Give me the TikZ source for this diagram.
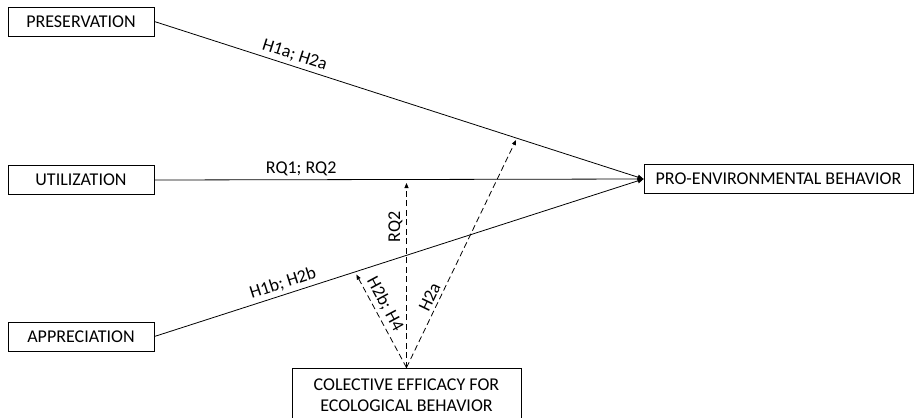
\documentclass[tikz,border=0pt]{standalone}
\usepackage{fontspec}
\setmainfont{Carlito}
\usetikzlibrary{arrows.meta,calc,positioning}

\begin{document}
\begin{tikzpicture}
  [
  x=1pt, y=-1pt,
  varbox/.style={draw, line width=0.8pt, minimum height=29pt, inner sep=0pt, font=\fontsize{18}{21}\selectfont},
  effect/.style={draw, line width=0.8pt, -{Triangle[length=6pt,width=5pt]}},
  moderation/.style={draw, line width=0.8pt, dash pattern=on 6pt off 3.5pt, -{Triangle[length=5pt,width=4pt]}},
  hyp/.style={font=\fontsize{18}{21}\selectfont, inner sep=3.5pt}
  ]
  \useasboundingbox (0,0) rectangle (914,418);
  % predictors
  \node[varbox, minimum width=146pt] (pres) at (81,21.5) {PRESERVATION};
  \node[varbox, minimum width=146pt] (util) at (81,180) {UTILIZATION};
  \node[varbox, minimum width=146pt] (appr) at (81,336.5) {APPRECIATION};
  % outcome and moderator
  \node[varbox, minimum width=269pt] (peb) at (778.5,179) {PRO-ENVIRONMENTAL BEHAVIOR};
  \node[varbox, minimum width=229pt, minimum height=54pt, align=center] (eff) at (406.5,395)
    {COLECTIVE EFFICACY FOR\\ECOLOGICAL BEHAVIOR};

  \draw[effect] (pres.east) -- node[hyp, sloped, above, pos=0.28] {H1a; H2a} (peb.west);
  \draw[effect] (util.east) -- node[hyp, above, pos=0.30] {RQ1; RQ2} (peb.west);
  \draw[effect] (appr.east) -- node[hyp, sloped, above, pos=0.27] {H1b; H2b} (peb.west);

  % targets on the paths
  \coordinate (m1) at ($(pres.east)!0.741!(peb.west)$);
  \coordinate (m2) at (eff.north |- util.east);
  \coordinate (m3) at ($(appr.east)!0.41!(peb.west)$);

  \draw[moderation, shorten >=2pt] (eff.north) -- node[hyp, sloped, above, pos=0.29] {H2a} (m1);
  \draw[moderation, shorten >=3pt] (eff.north) -- node[hyp, sloped, above, pos=0.75] {RQ2} (m2);
  \draw[moderation, shorten >=3pt] (eff.north) -- node[hyp, sloped, above, pos=0.61] {H2b; H4} (m3);
\end{tikzpicture}
\end{document}
